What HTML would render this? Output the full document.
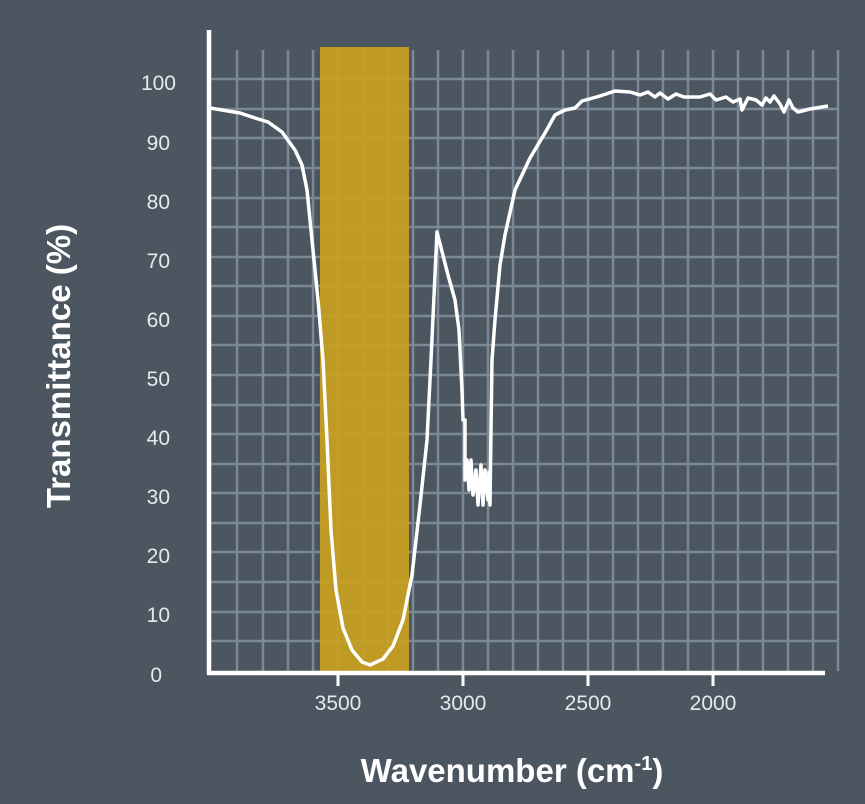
<!DOCTYPE html>
<html><head><meta charset="utf-8"><style>
html,body{margin:0;padding:0;background:#4b5661;}
</style></head><body>
<svg width="865" height="804" xmlns="http://www.w3.org/2000/svg" style="display:block">
<rect width="865" height="804" fill="#4b5661"/>
<g stroke="#7b8997" stroke-width="2.5">
<line x1="237" y1="50" x2="237" y2="671"/><line x1="263" y1="50" x2="263" y2="671"/><line x1="288" y1="50" x2="288" y2="671"/><line x1="313" y1="50" x2="313" y2="671"/><line x1="338" y1="50" x2="338" y2="671"/><line x1="363" y1="50" x2="363" y2="671"/><line x1="388" y1="50" x2="388" y2="671"/><line x1="413" y1="50" x2="413" y2="671"/><line x1="438" y1="50" x2="438" y2="671"/><line x1="463" y1="50" x2="463" y2="671"/><line x1="488" y1="50" x2="488" y2="671"/><line x1="513" y1="50" x2="513" y2="671"/><line x1="538" y1="50" x2="538" y2="671"/><line x1="563" y1="50" x2="563" y2="671"/><line x1="588" y1="50" x2="588" y2="671"/><line x1="613" y1="50" x2="613" y2="671"/><line x1="638" y1="50" x2="638" y2="671"/><line x1="663" y1="50" x2="663" y2="671"/><line x1="688" y1="50" x2="688" y2="671"/><line x1="713" y1="50" x2="713" y2="671"/><line x1="738" y1="50" x2="738" y2="671"/><line x1="763" y1="50" x2="763" y2="671"/><line x1="788" y1="50" x2="788" y2="671"/><line x1="813" y1="50" x2="813" y2="671"/><line x1="838" y1="50" x2="838" y2="671"/>
<line x1="210" y1="79" x2="838" y2="79"/><line x1="210" y1="109" x2="838" y2="109"/><line x1="210" y1="138" x2="838" y2="138"/><line x1="210" y1="168" x2="838" y2="168"/><line x1="210" y1="198" x2="838" y2="198"/><line x1="210" y1="227" x2="838" y2="227"/><line x1="210" y1="257" x2="838" y2="257"/><line x1="210" y1="286" x2="838" y2="286"/><line x1="210" y1="316" x2="838" y2="316"/><line x1="210" y1="345" x2="838" y2="345"/><line x1="210" y1="375" x2="838" y2="375"/><line x1="210" y1="405" x2="838" y2="405"/><line x1="210" y1="434" x2="838" y2="434"/><line x1="210" y1="464" x2="838" y2="464"/><line x1="210" y1="493" x2="838" y2="493"/><line x1="210" y1="523" x2="838" y2="523"/><line x1="210" y1="552" x2="838" y2="552"/><line x1="210" y1="582" x2="838" y2="582"/><line x1="210" y1="612" x2="838" y2="612"/><line x1="210" y1="641" x2="838" y2="641"/>
</g>
<rect x="320" y="47" width="89" height="624" fill="#c9a020" opacity="0.92"/>
<polyline fill="none" stroke="#fff" stroke-width="3.5" stroke-linejoin="round" points="210,108 240,113 255,118 268,122 282,132 295,150 302,165 307,190 312,240 318,300 323,360 327,440 331,530 336,590 343,628 352,650 362,662 370,665 383,659 393,646 403,620 412,575 420,505 427,440 431,360 437,232 448,275 455,300 459,330 462,390 463,420 465,420 465,480 467,460 469,490 471,460 473,495 476,470 478,505 481,465 483,505 485,470 488,500 489,472 490,505 491,430 492,360 495,320 500,265 505,235 515,190 530,158 545,133 555,115 565,110 575,108 582,101 600,96 615,91 630,92 640,95 648,92 655,97 660,93 668,99 676,94 684,97 700,97 710,94 716,100 726,97 733,102 740,99 742,110 748,98 756,100 762,105 766,98 770,102 774,96 780,104 784,112 789,100 793,108 798,112 810,109 828,106"/>
<g stroke="#fff" stroke-width="4.5" fill="none">
<line x1="209" y1="30" x2="209" y2="674"/>
<line x1="207" y1="673" x2="825" y2="673"/>
</g>
<g stroke="#fff" stroke-width="3"><line x1="338" y1="673" x2="338" y2="686"/><line x1="463" y1="673" x2="463" y2="686"/><line x1="588" y1="673" x2="588" y2="686"/><line x1="713" y1="673" x2="713" y2="686"/></g>
<g fill="#e6e9ec" font-family="Liberation Sans, sans-serif" font-size="21" text-anchor="end">
<text x="176" y="90">100</text><text x="170" y="150">90</text><text x="170" y="209">80</text><text x="170" y="268">70</text><text x="170" y="327">60</text><text x="170" y="386">50</text><text x="170" y="445">40</text><text x="170" y="504">30</text><text x="170" y="563">20</text><text x="170" y="622">10</text><text x="162" y="682">0</text>
</g>
<g fill="#e6e9ec" font-family="Liberation Sans, sans-serif" font-size="21" text-anchor="middle">
<text x="338" y="710">3500</text><text x="463" y="710">3000</text><text x="588" y="710">2500</text><text x="713" y="710">2000</text>
</g>
<text x="512" y="782" fill="#fff" font-family="Liberation Sans, sans-serif" font-size="33" font-weight="bold" text-anchor="middle">Wavenumber (cm<tspan font-size="20" dy="-12">-1</tspan><tspan dy="12">)</tspan></text>
<text transform="translate(70,366) rotate(-90)" fill="#fff" font-family="Liberation Sans, sans-serif" font-size="33" font-weight="bold" text-anchor="middle">Transmittance (%)</text>
</svg>
</body></html>
